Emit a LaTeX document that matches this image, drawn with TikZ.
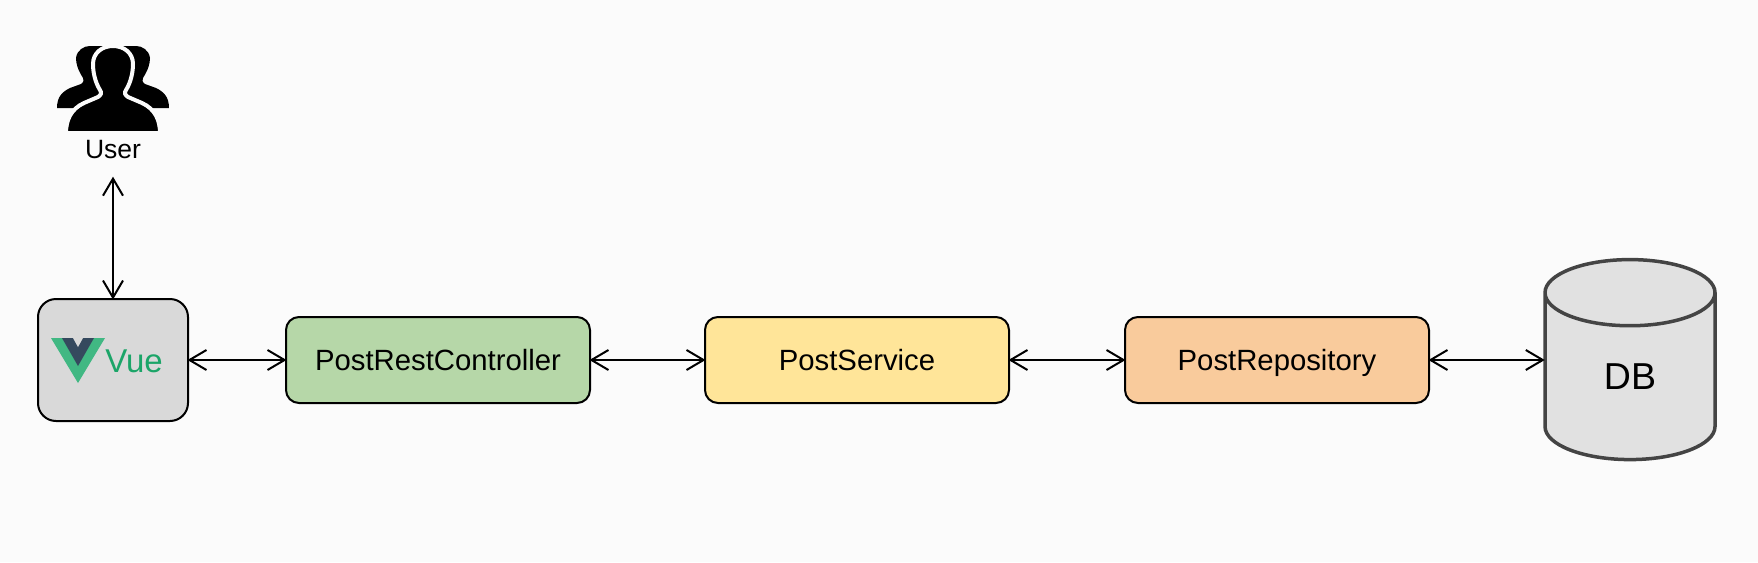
\documentclass[tikz,border=0pt]{standalone}
\usepackage{fontspec}
\setmainfont{Liberation Sans}
\usetikzlibrary{arrows.meta,shapes.geometric}
\definecolor{pagebg}{HTML}{FBFBFB}
\definecolor{vuebg}{HTML}{D9D9D9}
\definecolor{ctrlbg}{HTML}{B6D7A8}
\definecolor{servbg}{HTML}{FFE599}
\definecolor{repobg}{HTML}{F9CB9C}
\definecolor{dbbg}{HTML}{E1E1E1}
\definecolor{dbline}{HTML}{444444}
\definecolor{vuelight}{HTML}{41B883}
\definecolor{vuedark}{HTML}{35495E}
\definecolor{vuetext}{HTML}{1BA568}
\begin{document}
\begin{tikzpicture}[x=1pt,y=-1pt]
    \tikzstyle{every node}=[inner sep=0pt,font=\fontsize{26.5}{32}\selectfont]
    \tikzstyle{box}=[draw,line width=2pt,rounded corners=13pt,minimum width=304pt,minimum height=86pt,text height=28pt,text depth=7pt,font=\fontsize{29.3}{35}\selectfont]
    \tikzstyle{both}=[{Straight Barb[length=17pt,width=20pt,line width=2pt]}-{Straight Barb[length=17pt,width=20pt,line width=2pt]},line width=2pt,shorten >=-1.5pt,shorten <=-1.5pt]
    \useasboundingbox (0,0) rectangle (1758,562);
    \fill[pagebg] (0,0) rectangle (1758,562);
    %%%%% user icon
    \fill (57,108) .. controls (57,97) and (62,92) .. (70,88)
        -- (81,84) .. controls (84,82) and (84,80) .. (83,78)
        .. controls (78,70) and (76,64) .. (76,58)
        .. controls (77,50) and (84,46) .. (90,46)
        -- (113,46) -- (113,108) -- cycle;
    \fill (169,108) .. controls (169,97) and (164,92) .. (156,88)
        -- (145,84) .. controls (142,82) and (142,80) .. (143,78)
        .. controls (148,70) and (150,64) .. (150,58)
        .. controls (149,50) and (142,46) .. (136,46)
        -- (113,46) -- (113,108) -- cycle;
    \filldraw[draw=pagebg,line width=4pt] (66,133) .. controls (66,120) and (71,109) .. (84,103)
        -- (98,97) .. controls (101,95) and (102,93) .. (100,90)
        .. controls (95,82) and (93,72) .. (93,64)
        .. controls (93,53) and (102,46) .. (113,46)
        .. controls (124,46) and (133,53) .. (133,64)
        .. controls (133,72) and (131,82) .. (126,90)
        .. controls (124,93) and (125,95) .. (128,97)
        -- (142,103) .. controls (155,109) and (160,120) .. (160,133) -- cycle;
    \fill[pagebg] (50,131) rectangle (176,136);
    \draw (113,150) node[minimum height=56pt] (user) {User};
    %%%%% vue box
    \draw (113,360) node[draw,line width=2pt,rounded corners=18pt,fill=vuebg,minimum width=150pt,minimum height=122pt] (vue) {};
    \fill[vuelight] (51,338) -- (105,338) -- (78,383) -- cycle;
    \fill[vuedark] (62,338) -- (94,338) -- (78,366) -- cycle;
    \fill[vuebg] (73,338) -- (83,338) -- (78,347) -- cycle;
    \draw (134,361) node[text=vuetext,font=\fontsize{33}{38}\selectfont] (vuelabel) {Vue};
    %%%%% layers
    \draw (438,360) node[box,fill=ctrlbg] (controller) {PostRestController};
    \draw (857,360) node[box,fill=servbg] (service) {PostService};
    \draw (1277,360) node[box,fill=repobg] (repository) {PostRepository};
    %%%%% database
    \draw (1630,377) node[cylinder,shape border rotate=90,aspect=1.27,draw=dbline,line width=3.5pt,fill=dbbg,minimum width=170pt,minimum height=200pt,font=\fontsize{37.5}{44}\selectfont] (db) {DB};
    %%%%%
    \draw[both] (user) -- (vue);
    \draw[both] (vue) -- (controller);
    \draw[both] (controller) -- (service);
    \draw[both] (service) -- (repository);
    \draw[both] (repository) -- (repository -| db.west);
\end{tikzpicture}
\end{document}
